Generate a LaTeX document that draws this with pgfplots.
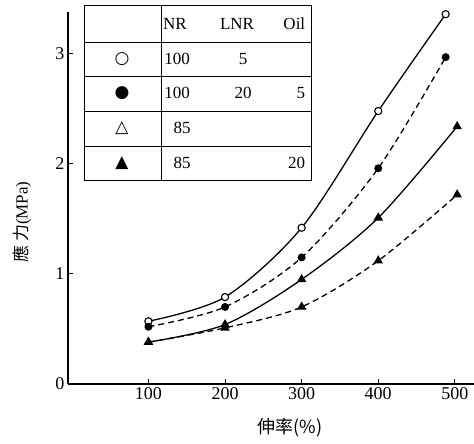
\documentclass[border=0pt]{standalone}
\usepackage{fontspec}
\setmainfont{Liberation Serif}
\newfontfamily\cjk{Noto Sans CJK TC}
\newfontfamily\sym{DejaVu Sans}
\usepackage{pgfplots}
\pgfplotsset{compat=1.18}

\begin{document}
\begin{tikzpicture}
% fix the page to the reference frame (1pt = 1px)
\path[use as bounding box] (-68pt,-60pt) rectangle (406pt,384pt);
\begin{axis}[
  scale only axis, width=406pt, height=372pt,
  at={(0,0)}, anchor=south west,
  xmin=-5, xmax=525, ymin=0, ymax=3.38,
  axis x line*=bottom, axis y line*=left,
  axis line style={line width=1.3pt, -},
  xtick={100,200,300,400,500}, ytick={0,1,2,3},
  tick align=inside, major tick length=5pt,
  tick style={line width=1pt, black},
  tick label style={font=\fontsize{18}{20}\selectfont},
  /pgf/number format/assume math mode=true,
  xlabel={{\cjk 伸率(\%)}},
  xlabel style={at={(axis description cs:0.547,-0.118)}, anchor=center, font=\fontsize{18}{20}\selectfont},
  ylabel={{\cjk 應\ 力}(MPa)},
  ylabel style={at={(axis description cs:-0.113,0.435)}, anchor=center, font=\fontsize{17}{20}\selectfont},
  clip=false,
]
% open circles, solid
\addplot[black, line width=1.3pt, smooth, mark=*, mark size=3.6pt,
  mark options={fill=white, line width=1.1pt, solid}] coordinates {
  (100,0.57)(200,0.79)(300,1.42)(400,2.48)(488,3.36)};
% filled circles, dashed
\addplot[black, line width=1.3pt, smooth, dash pattern=on 6pt off 4pt, mark=*, mark size=3.3pt,
  mark options={fill=black, solid}] coordinates {
  (100,0.52)(200,0.70)(300,1.15)(400,1.96)(488,2.97)};
% triangles, solid
\addplot[black, line width=1.3pt, smooth, mark=triangle*, mark size=4.2pt,
  mark options={fill=black, solid}] coordinates {
  (100,0.38)(200,0.54)(300,0.95)(400,1.51)(503,2.34)};
% triangles, dashed
\addplot[black, line width=1.3pt, smooth, dash pattern=on 6pt off 4pt, mark=triangle*, mark size=4.2pt,
  mark options={fill=black, solid}] coordinates {
  (100,0.38)(200,0.51)(300,0.70)(400,1.12)(503,1.72)};
\end{axis}
% composition table
\begin{scope}[line width=0.9pt, font=\fontsize{17}{19}\selectfont]
\draw (16pt,379pt) rectangle (243pt,204pt);
\foreach \yy in {342,308,273,238} \draw (16pt,\yy pt) -- (243pt,\yy pt);
\draw (93pt,379pt) -- (93pt,204pt);
\node at (107pt,360pt) {NR};
\node at (169pt,360pt) {LNR};
\node[anchor=east] at (241pt,360pt) {Oil};
\node at (54pt,325pt) {\sym ○};
\node at (54pt,291pt) {\sym ●};
\node at (54pt,256pt) {\sym △};
\node at (54pt,221pt) {\sym ▲};
\node at (109pt,325pt) {100};
\node at (175pt,325pt) {5};
\node at (109pt,291pt) {100};
\node at (175pt,291pt) {20};
\node[anchor=east] at (241pt,291pt) {5};
\node at (114pt,256pt) {85};
\node at (114pt,221pt) {85};
\node[anchor=east] at (241pt,221pt) {20};
\end{scope}
\end{tikzpicture}
\end{document}
